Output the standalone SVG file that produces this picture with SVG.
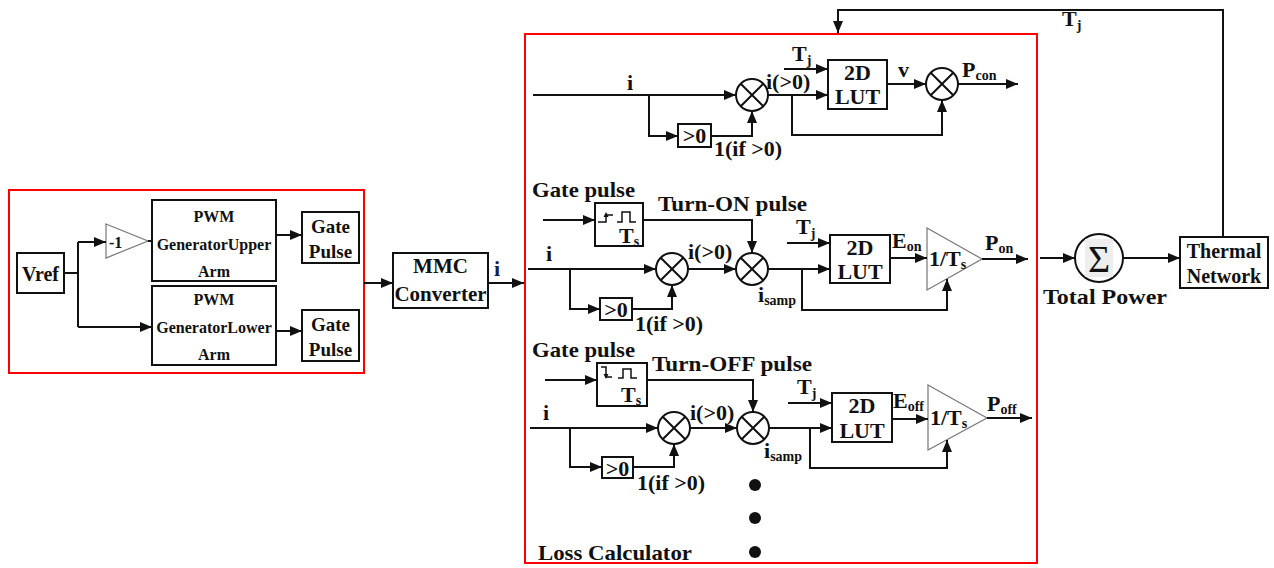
<svg xmlns="http://www.w3.org/2000/svg" width="1274" height="568" viewBox="0 0 1274 568" font-family="'Liberation Serif', 'DejaVu Serif', serif" font-weight="bold">
<style>
text{font-family:'Liberation Serif','DejaVu Serif',serif;font-weight:bold;fill:#111}
.ln{fill:none;stroke:#111;stroke-width:2}
.ar{fill:none;stroke:#111;stroke-width:2;marker-end:url(#a)}
.bx{fill:#fff;stroke:#111;stroke-width:2}
.red{fill:none;stroke:#f00;stroke-width:2}
.tri{fill:#fff;stroke:#777;stroke-width:1.2}
.mul{fill:#fff;stroke:#111;stroke-width:2}
.t16{font-size:16px}
.t19{font-size:19px}
.t20{font-size:20px}
.t22{font-size:22px}
.t23{font-size:23px}
.sub{font-size:14px}
.c{text-anchor:middle}
</style>
<defs>
<marker id="a" viewBox="0 0 12 10" refX="12" refY="5" markerWidth="12" markerHeight="10" markerUnits="userSpaceOnUse" orient="auto">
<path d="M0,0 L12,5 L0,10 z" fill="#111"/>
</marker>
<g id="x"><circle r="16" class="mul"/><path d="M-11.3,-11.3 L11.3,11.3 M11.3,-11.3 L-11.3,11.3" class="ln"/></g>
</defs>

<!-- left group -->
<rect class="red" x="9" y="190" width="355" height="183"/>
<g id="vref"><rect class="bx" x="17" y="253" width="47" height="40"/><text class="t20 c" x="40.5" y="281">Vref</text></g>
<g id="gain"><polygon class="tri" points="106,224 148,241 106,258"/><text class="t16" x="109" y="248">-1</text></g>
<g id="pwmU"><rect class="bx" x="152" y="200" width="124" height="81"/>
<text class="t16 c" x="214" y="222">PWM</text><text class="t16 c" x="214" y="250">GeneratorUpper</text><text class="t16 c" x="214" y="277">Arm</text></g>
<g id="pwmL"><rect class="bx" x="152" y="286" width="124" height="79"/>
<text class="t16 c" x="214" y="305">PWM</text><text class="t16 c" x="214" y="333">GeneratorLower</text><text class="t16 c" x="214" y="360">Arm</text></g>
<g id="gpU"><rect class="bx" x="302" y="212" width="57" height="51"/><text class="t19 c" x="330.5" y="233">Gate</text><text class="t19 c" x="330.5" y="258">Pulse</text></g>
<g id="gpL"><rect class="bx" x="302" y="310" width="57" height="51"/><text class="t19 c" x="330.5" y="331">Gate</text><text class="t19 c" x="330.5" y="356">Pulse</text></g>
<g id="mmc"><rect class="bx" x="393" y="253" width="95" height="55"/><text class="t20 c" x="440.5" y="273" style="font-size:21px">MMC</text><text class="t20 c" x="440.5" y="301" style="font-size:21px">Converter</text></g>

<!-- loss calculator frame -->
<rect class="red" x="525" y="34" width="512" height="529"/>
<text class="t22" x="538" y="560" textLength="154" lengthAdjust="spacingAndGlyphs">Loss Calculator</text>

<!-- top row nodes -->
<g id="m1"><use href="#x" x="752" y="95"/></g>
<g id="gt1"><rect class="bx" x="678" y="124" width="33" height="23"/><text class="t22 c" x="694.5" y="143">&gt;0</text></g>
<g id="lut1"><rect class="bx" x="828" y="60" width="59" height="49"/><text class="t22 c" x="857.5" y="80">2D</text><text class="t22 c" x="857.5" y="104">LUT</text></g>
<g id="m2"><use href="#x" x="942" y="84"/></g>

<!-- middle row nodes -->
<g id="pOn"><rect class="bx" x="595" y="203" width="48" height="43"/>
<path class="ln" style="stroke-width:1.5" d="M598,222 H606 V215 H613 M617,222 H622 V212 H630 V222 H636"/>
<path d="M603.5,217 L606,212 L608.5,217 z" fill="#111"/>
<text class="t22" x="619" y="243">T<tspan class="sub" dy="3">s</tspan></text></g>
<g id="m3"><use href="#x" x="672" y="269"/></g>
<g id="gt2"><rect class="bx" x="600" y="298" width="32" height="22"/><text class="t22 c" x="616" y="317">&gt;0</text></g>
<g id="m4"><use href="#x" x="752" y="269"/></g>
<g id="lut2"><rect class="bx" x="830" y="235" width="60" height="48"/><text class="t22 c" x="860" y="255">2D</text><text class="t22 c" x="860" y="279">LUT</text></g>
<g id="k1"><polygon class="tri" points="927,228 982,259 927,290"/><text class="t22" x="929" y="266">1/T<tspan class="sub" dy="3">s</tspan></text></g>

<!-- bottom row nodes -->
<g id="pOff"><rect class="bx" x="597" y="363" width="50" height="43"/>
<path class="ln" style="stroke-width:1.5" d="M601,367 H606 V377 H612 M618,378 H623 V369 H631 V378 H637"/>
<path d="M603.5,374 L606,379 L608.5,374 z" fill="#111"/>
<text class="t22" x="621" y="402">T<tspan class="sub" dy="3">s</tspan></text></g>
<g id="m5"><use href="#x" x="674" y="428"/></g>
<g id="gt3"><rect class="bx" x="602" y="457" width="31" height="21"/><text class="t22 c" x="617.5" y="476">&gt;0</text></g>
<g id="m6"><use href="#x" x="753" y="428"/></g>
<g id="lut3"><rect class="bx" x="832" y="393" width="60" height="49"/><text class="t22 c" x="862" y="413">2D</text><text class="t22 c" x="862" y="438">LUT</text></g>
<g id="k2"><polygon class="tri" points="928,385 987,418 928,450"/><text class="t22" x="930" y="425">1/T<tspan class="sub" dy="3">s</tspan></text></g>
<g id="dots"><circle cx="755" cy="485" r="6" fill="#111"/><circle cx="755" cy="518" r="6" fill="#111"/><circle cx="755" cy="552" r="6" fill="#111"/></g>

<!-- right nodes -->
<g id="sum"><circle cx="1099" cy="258" r="24" fill="#fff" stroke="#111" stroke-width="2"/>
<rect x="1085" y="239" width="28" height="38" fill="#eee"/>
<text x="1099" y="272" class="c" style="font-size:38px;font-weight:normal">Σ</text></g>
<text class="t22" x="1043" y="304" textLength="124" lengthAdjust="spacingAndGlyphs">Total Power</text>
<g id="thermal"><rect class="bx" x="1180" y="237" width="88" height="51"/><text class="t20 c" x="1224" y="258">Thermal</text><text class="t20 c" x="1224" y="283">Network</text></g>

<!-- connectors -->
<g id="connectors">
<path class="ln" d="M64,273 H78 M78,242 V327 M148,241 H152"/>
<path class="ar" d="M78,242 H106"/>
<path class="ar" d="M78,327 H152"/>
<path class="ar" d="M276,235 H302"/>
<path class="ar" d="M276,331 H302"/>
<path class="ar" d="M364,283 H393"/>
<path class="ar" d="M488,283 H524"/>

<path class="ar" d="M533,95 H736"/>
<path class="ar" d="M649,95 V136 H678"/>
<path class="ar" d="M711,136 H752 V111"/>
<path class="ar" d="M768,95 H828"/>
<path class="ar" d="M784,69 H828"/>
<path class="ar" d="M792,95 V135 H942 V100"/>
<path class="ar" d="M887,84 H926"/>
<path class="ar" d="M958,84 H1018"/>

<path class="ar" d="M543,220 H595"/>
<path class="ar" d="M643,220 H752 V253"/>
<path class="ar" d="M528,269 H656"/>
<path class="ar" d="M570,269 V309 H600"/>
<path class="ar" d="M632,309 H672 V285"/>
<path class="ar" d="M688,269 H736"/>
<path class="ar" d="M768,269 H830"/>
<path class="ar" d="M802,269 V310 H947 V279"/>
<path class="ar" d="M787,243 H830"/>
<path class="ar" d="M890,258 H927"/>
<path class="ar" d="M982,259 H1028"/>

<path class="ar" d="M545,380 H597"/>
<path class="ar" d="M647,380 H753 V412"/>
<path class="ar" d="M530,428 H658"/>
<path class="ar" d="M570,428 V467 H602"/>
<path class="ar" d="M633,467 H674 V444"/>
<path class="ar" d="M690,428 H737"/>
<path class="ar" d="M769,428 H832"/>
<path class="ar" d="M810,428 V468 H947 V440"/>
<path class="ar" d="M788,403 H832"/>
<path class="ar" d="M892,419 H928"/>
<path class="ar" d="M987,418 H1032"/>

<path class="ar" d="M1040,258 H1075"/>
<path class="ar" d="M1123,258 H1180"/>
<path class="ar" d="M1223,237 V10 H838 V33"/>
</g>

<!-- labels -->
<text class="t22" x="494" y="276" style="fill:#14204a">i</text>
<text class="t22" x="627" y="90">i</text>
<text class="t22" x="714" y="156">1(if &gt;0)</text>
<text class="t22" x="766" y="89">i(&gt;0)</text>
<text class="t22" x="792" y="61">T<tspan class="sub" dy="4">j</tspan></text>
<text class="t22" x="898" y="77">v</text>
<text class="t22" x="962" y="77">P<tspan class="sub" dy="3">con</tspan></text>
<text class="t22" x="1062" y="26">T<tspan class="sub" dy="4">j</tspan></text>

<text class="t22" x="532" y="197" textLength="103" lengthAdjust="spacingAndGlyphs">Gate pulse</text>
<text class="t22" x="658" y="211" textLength="149" lengthAdjust="spacingAndGlyphs">Turn-ON pulse</text>
<text class="t22" x="546" y="261">i</text>
<text class="t22" x="635" y="331">1(if &gt;0)</text>
<text class="t22" x="688" y="259">i(&gt;0)</text>
<text class="t22" x="758" y="302">i<tspan class="sub" dy="3">samp</tspan></text>
<text class="t22" x="796" y="234">T<tspan class="sub" dy="4">j</tspan></text>
<text class="t22" x="892" y="248">E<tspan class="sub" dy="3">on</tspan></text>
<text class="t22" x="985" y="250">P<tspan class="sub" dy="3">on</tspan></text>

<text class="t22" x="532" y="357" textLength="103" lengthAdjust="spacingAndGlyphs">Gate pulse</text>
<text class="t22" x="652" y="371" textLength="160" lengthAdjust="spacingAndGlyphs">Turn-OFF pulse</text>
<text class="t22" x="543" y="420">i</text>
<text class="t22" x="637" y="490">1(if &gt;0)</text>
<text class="t22" x="690" y="420">i(&gt;0)</text>
<text class="t22" x="764" y="458">i<tspan class="sub" dy="3">samp</tspan></text>
<text class="t22" x="797" y="394">T<tspan class="sub" dy="4">j</tspan></text>
<text class="t22" x="893" y="408">E<tspan class="sub" dy="3">off</tspan></text>
<text class="t22" x="987" y="411">P<tspan class="sub" dy="3">off</tspan></text>
</svg>
